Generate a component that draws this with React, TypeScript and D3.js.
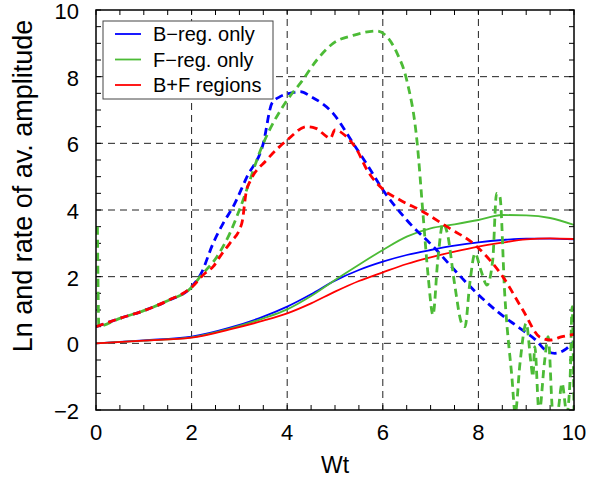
import * as d3 from "d3";

const W = 589;
const H = 477;
const margin = { top: 10, right: 15, bottom: 67, left: 96 };

// solid curves (rate)
const solidX = [0, 1, 2, 2.8, 3.5, 4, 4.5, 5, 5.5, 6, 6.5, 7, 7.5, 8, 8.5, 9, 9.5, 10];
const solidB = [0, 0.09, 0.2, 0.47, 0.8, 1.1, 1.47, 1.88, 2.2, 2.45, 2.65, 2.8, 2.93, 3.03, 3.1, 3.14, 3.14, 3.12];
const solidF = [0, 0.08, 0.18, 0.44, 0.75, 1.02, 1.42, 1.9, 2.36, 2.8, 3.2, 3.45, 3.57, 3.7, 3.85, 3.84, 3.76, 3.55];
const solidBF = [0, 0.08, 0.17, 0.42, 0.68, 0.9, 1.2, 1.55, 1.87, 2.13, 2.38, 2.58, 2.75, 2.9, 3.02, 3.12, 3.15, 3.13];

// dashed curves (Ln)
const lnBX = [0, 0.5, 1, 1.5, 2, 2.2, 2.45, 2.66, 2.87, 3.16, 3.5, 3.68, 3.85, 4.05, 4.27, 4.5, 4.96, 5.38, 5.7, 5.98, 6.5, 7.09, 7.5, 7.97, 8.4, 8.87, 9.2, 9.4, 9.6, 9.8, 10];
const lnB = [0.5, 0.75, 0.98, 1.28, 1.7, 2.1, 3.0, 3.6, 4.1, 5.0, 6.0, 7.2, 7.4, 7.5, 7.55, 7.4, 6.9, 6.0, 5.3, 4.65, 3.7, 2.85, 2.2, 1.5, 0.95, 0.45, 0.1, -0.2, -0.3, -0.2, 0.05];

const lnFX = [0.03, 0.06, 0.5, 1, 1.5, 2, 2.18, 2.53, 2.8, 3.0, 3.5, 4.0, 4.3, 4.62, 4.96, 5.38, 5.88, 6.05, 6.3, 6.5, 6.72, 6.84, 6.95, 7.05, 7.15, 7.26, 7.35, 7.5, 7.65, 7.72, 7.82, 7.93, 8.05, 8.18, 8.3, 8.38, 8.45, 8.55, 8.7, 8.77, 8.87, 9.0, 9.1, 9.14, 9.18, 9.27, 9.38, 9.46, 9.56, 9.65, 9.75, 9.85, 9.92, 9.96, 10];
const lnF = [3.5, 0.52, 0.75, 0.98, 1.28, 1.68, 2.0, 2.6, 3.3, 4.0, 6.0, 7.3, 7.85, 8.5, 9.0, 9.24, 9.37, 9.25, 8.7, 7.9, 6.0, 3.9, 2.0, 0.85, 2.5, 3.6, 3.3, 1.8, 0.6, 0.5, 1.8, 2.7, 2.2, 1.75, 2.5, 4.5, 4.4, 1.5, -1.0, -2.1, -0.6, 0.6, -0.6, -1.0, -0.1, -2.1, -0.6, 0.2, -2.1, -2.1, -1.2, -2.1, -1.0, 1.1, -2.1];

const lnBFX = [0, 0.5, 1, 1.5, 2, 2.28, 2.45, 2.64, 2.8, 3.05, 3.15, 3.22, 3.57, 4.0, 4.41, 4.6, 4.83, 4.9, 5.0, 5.2, 5.46, 5.67, 5.98, 6.36, 6.84, 7.34, 7.97, 8.51, 8.93, 9.29, 9.5, 9.75, 10];
const lnBF = [0.5, 0.75, 0.98, 1.28, 1.68, 2.1, 2.3, 2.7, 3.0, 3.6, 4.6, 4.85, 5.5, 6.1, 6.5, 6.45, 6.2, 6.15, 6.4, 6.25, 5.8, 5.2, 4.65, 4.3, 3.95, 3.5, 2.9, 2.0, 1.0, 0.18, 0.1, 0.2, 0.27];

const xTicks = [0, 2, 4, 6, 8, 10];
const yTicks = [-2, 0, 2, 4, 6, 8, 10];
const legendLabels = ["B\u2212reg. only", "F\u2212reg. only", "B+F regions"];
const colors = ["#0000ff", "#4cbb36", "#ff0000"];

const font = "'Liberation Sans', Arial, Helvetica, sans-serif";

export default function App() {
  const x = d3.scaleLinear().domain([0, 10]).range([margin.left, W - margin.right]);
  const y = d3.scaleLinear().domain([-2, 10]).range([H - margin.bottom, margin.top]);
  const [x0, x1] = x.range();
  const [y0, y1] = y.range();

  const line = d3
    .line<[number, number]>()
    .x((d) => x(d[0]))
    .y((d) => y(d[1]))
    .curve(d3.curveMonotoneX);

  const zip = (xs: number[], ys: number[]) => xs.map((v, i) => [v, ys[i]] as [number, number]);

  const solids = [solidB, solidF, solidBF].map((s) => zip(solidX, s));
  const dashed = [zip(lnBX, lnB), zip(lnFX, lnF), zip(lnBFX, lnBF)];

  const minorX = d3.range(0, 10.01, 0.5);
  const minorY = d3.range(-2, 10.01, 0.5);
  const tl = 5;

  return (
    <svg width={W} height={H} style={{ position: "absolute", left: 0, top: 0, background: "#fff" }}>
      <defs>
        <clipPath id="plot">
          <rect x={x0} y={y1} width={x1 - x0} height={y0 - y1} />
        </clipPath>
      </defs>

      {/* grid */}
      <g stroke="#222" strokeWidth={1} strokeDasharray="7,5">
        {xTicks.slice(1, -1).map((t) => (
          <line key={"gx" + t} x1={x(t)} x2={x(t)} y1={y0} y2={y1} />
        ))}
        {yTicks.slice(1, -1).map((t) => (
          <line key={"gy" + t} x1={x0} x2={x1} y1={y(t)} y2={y(t)} />
        ))}
      </g>

      {/* ticks */}
      <g stroke="#000" strokeWidth={1}>
        {minorX.map((t) => (
          <g key={"tx" + t}>
            <line x1={x(t)} x2={x(t)} y1={y0} y2={y0 - tl} />
            <line x1={x(t)} x2={x(t)} y1={y1} y2={y1 + tl} />
          </g>
        ))}
        {minorY.map((t) => (
          <g key={"ty" + t}>
            <line x1={x0} x2={x0 + tl} y1={y(t)} y2={y(t)} />
            <line x1={x1} x2={x1 - tl} y1={y(t)} y2={y(t)} />
          </g>
        ))}
      </g>

      {/* curves */}
      <g clipPath="url(#plot)" fill="none">
        {solids.map((d, i) => (
          <path key={"s" + i} d={line(d) ?? ""} stroke={colors[i]} strokeWidth={1.8} />
        ))}
        {dashed.map((d, i) => (
          <path
            key={"d" + i}
            d={line(d) ?? ""}
            stroke={colors[i]}
            strokeWidth={2.8}
            strokeDasharray="8,5"
          />
        ))}
      </g>

      <rect x={x0} y={y1} width={x1 - x0} height={y0 - y1} fill="none" stroke="#000" strokeWidth={1.5} />

      {/* tick labels */}
      <g fontFamily={font} fontSize={22} fill="#000">
        {xTicks.map((t) => (
          <text key={"lx" + t} x={x(t)} y={y0 + 30} textAnchor="middle">
            {d3.format("d")(t)}
          </text>
        ))}
        {yTicks.map((t) => (
          <text key={"ly" + t} x={x0 - 17} y={y(t) + 9} textAnchor="end">
            {d3.format("d")(t)}
          </text>
        ))}
      </g>

      <text x={(x0 + x1) / 2} y={y0 + 63} textAnchor="middle" fontFamily={font} fontSize={23}>
        Wt
      </text>
      <text
        transform={`translate(32,186) rotate(-90)`}
        textAnchor="middle"
        fontFamily={font}
        fontSize={27}
      >
        Ln and rate of av. amplitude
      </text>

      {/* legend */}
      <g>
        <rect x={103} y={21} width={170} height={78} fill="#fff" stroke="#444" strokeWidth={1} />
        {legendLabels.map((lab, i) => (
          <g key={lab} transform={`translate(115,${34 + i * 25.5})`}>
            <line x1={0} x2={26} y1={0} y2={0} stroke={colors[i]} strokeWidth={1.8} />
            <text x={38} y={7} fontFamily={font} fontSize={20}>
              {lab}
            </text>
          </g>
        ))}
      </g>
    </svg>
  );
}
